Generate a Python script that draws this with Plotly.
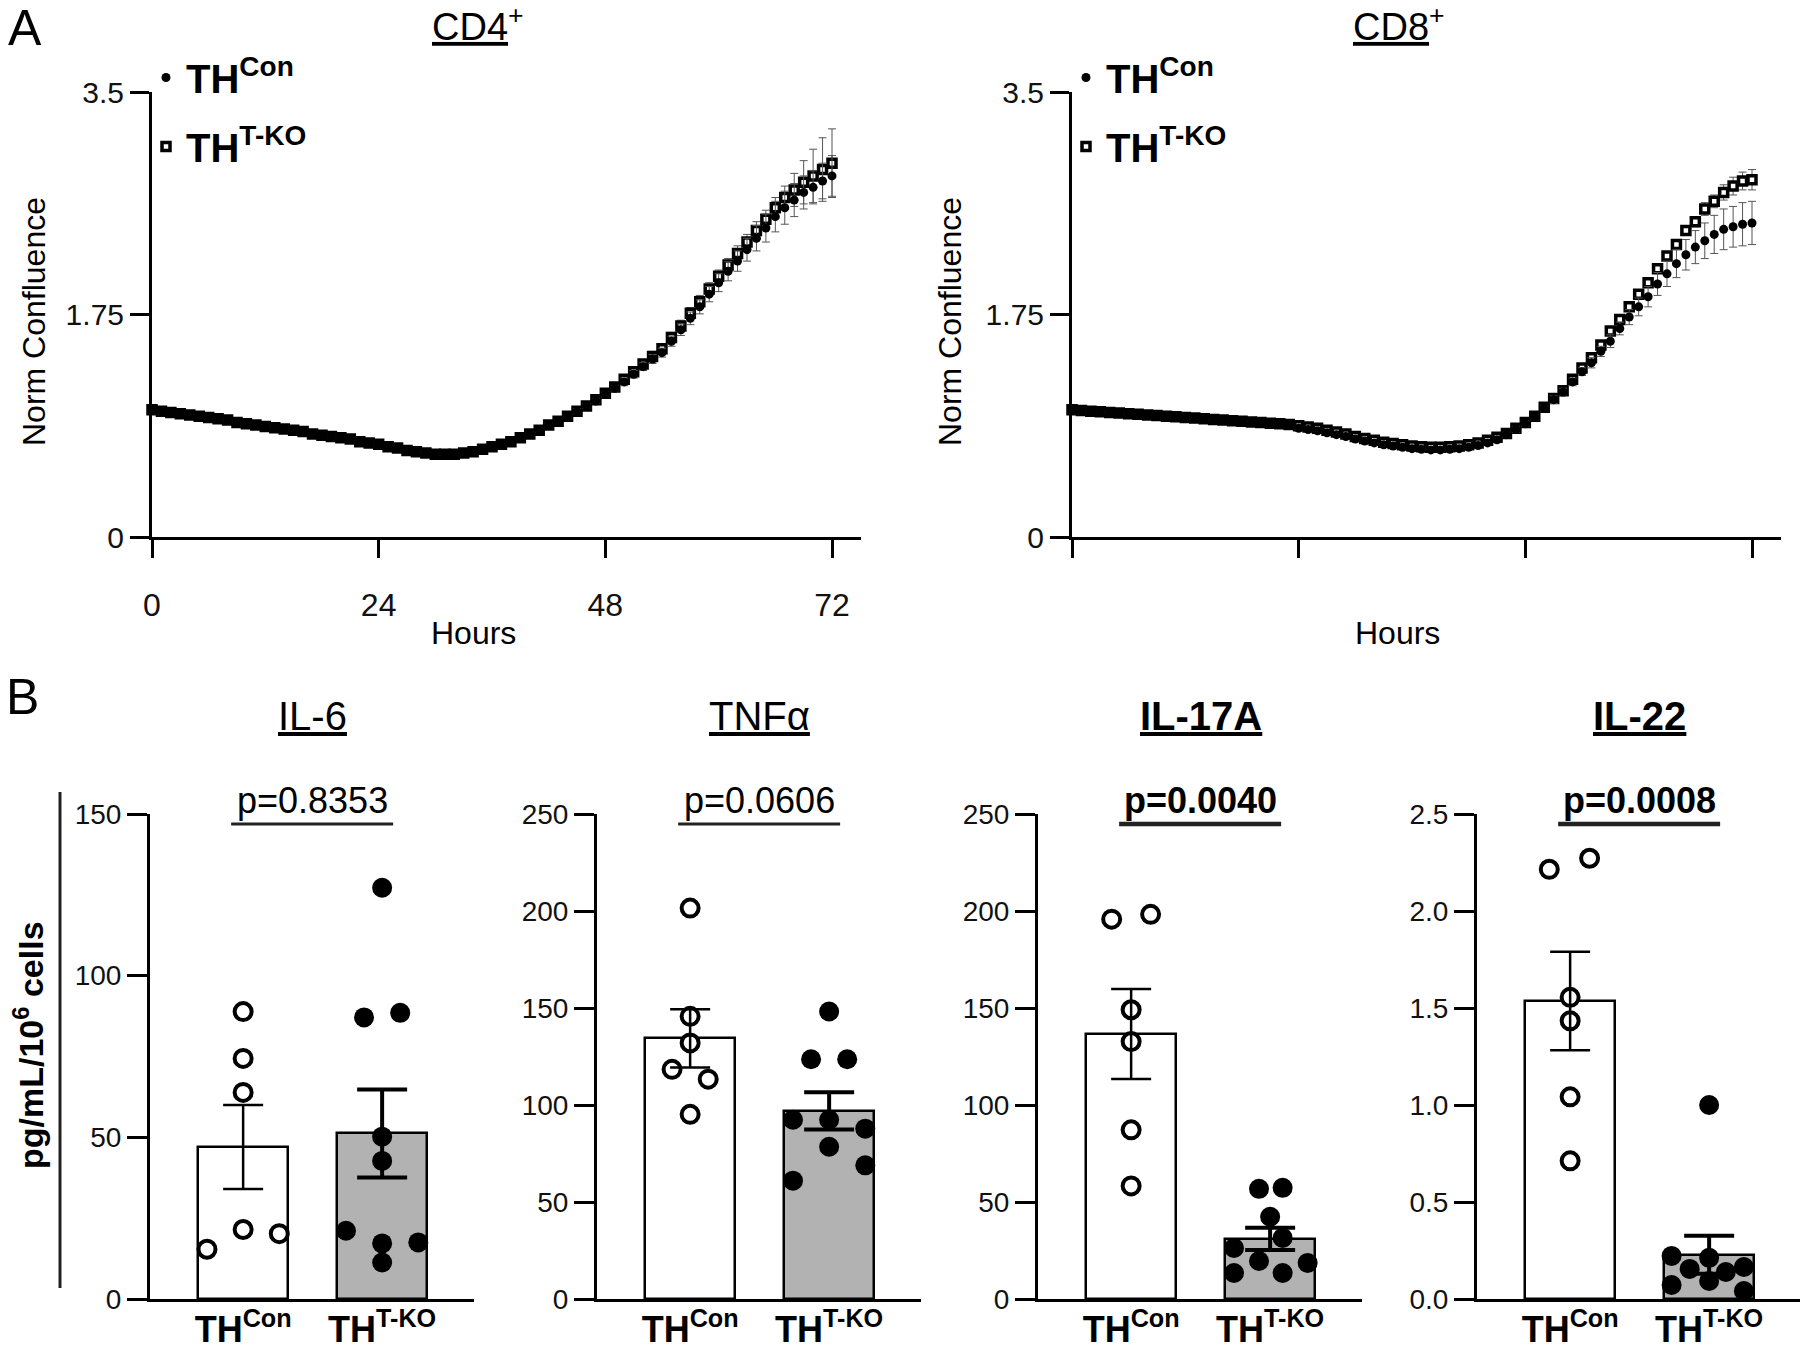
import plotly.graph_objects as go

# ---------------- DATA ----------------
HOURS = list(range(73))

CD4_KO = [1.00, 0.99, 0.98, 0.97, 0.96, 0.95, 0.94, 0.93, 0.92, 0.90,
          0.89, 0.88, 0.87, 0.86, 0.85, 0.84, 0.83, 0.81, 0.80, 0.79,
          0.78, 0.77, 0.75, 0.74, 0.73, 0.71, 0.70, 0.68, 0.67, 0.66,
          0.65, 0.65, 0.65, 0.66, 0.67, 0.69, 0.71, 0.73, 0.75, 0.78,
          0.81, 0.84, 0.88, 0.91, 0.95, 0.99, 1.03, 1.08, 1.13, 1.18,
          1.24, 1.30, 1.36, 1.42, 1.48, 1.57, 1.66, 1.76, 1.85, 1.95,
          2.05, 2.14, 2.23, 2.32, 2.41, 2.50, 2.59, 2.67, 2.73, 2.79,
          2.84, 2.89, 2.94]
CD4_CON = [1.00, 0.99, 0.98, 0.97, 0.96, 0.95, 0.94, 0.93, 0.92, 0.90,
           0.89, 0.88, 0.87, 0.86, 0.85, 0.84, 0.83, 0.81, 0.80, 0.79,
           0.78, 0.77, 0.75, 0.74, 0.73, 0.71, 0.70, 0.68, 0.67, 0.66,
           0.65, 0.65, 0.65, 0.66, 0.67, 0.69, 0.71, 0.73, 0.75, 0.78,
           0.81, 0.84, 0.88, 0.91, 0.95, 0.99, 1.03, 1.07, 1.12, 1.17,
           1.22, 1.28, 1.34, 1.40, 1.45, 1.54, 1.63, 1.72, 1.81, 1.91,
           2.00, 2.09, 2.17, 2.26, 2.35, 2.43, 2.52, 2.59, 2.65, 2.71,
           2.75, 2.80, 2.84]
CD4_KO_ERR = [0.01] * 40 + [0.015] * 5 + [0.02] * 5 + \
             [0.03, 0.03, 0.035, 0.04, 0.04, 0.04, 0.045, 0.045, 0.05, 0.05,
              0.05, 0.05, 0.06, 0.06, 0.07, 0.07, 0.08, 0.09, 0.13, 0.17,
              0.21, 0.25, 0.27]
CD4_CON_ERR = [0.01] * 40 + [0.015] * 5 + [0.02] * 5 + \
              [0.03, 0.03, 0.03, 0.035, 0.035, 0.04, 0.045, 0.05, 0.055, 0.06,
               0.07, 0.075, 0.08, 0.09, 0.10, 0.11, 0.12, 0.13, 0.13, 0.13,
               0.13, 0.14, 0.16]

CD8_KO = [1.00, 0.995, 0.99, 0.985, 0.98, 0.975, 0.97, 0.965, 0.96, 0.955,
          0.95, 0.945, 0.94, 0.935, 0.93, 0.925, 0.92, 0.915, 0.91, 0.905,
          0.90, 0.895, 0.89, 0.885, 0.875, 0.865, 0.855, 0.84, 0.825, 0.81,
          0.79, 0.775, 0.76, 0.745, 0.735, 0.725, 0.715, 0.71, 0.705, 0.705,
          0.71, 0.715, 0.725, 0.74, 0.76, 0.785, 0.815, 0.855, 0.90, 0.95,
          1.02, 1.09, 1.15, 1.24, 1.33, 1.41, 1.51, 1.62, 1.71, 1.81,
          1.91, 2.00, 2.11, 2.21, 2.30, 2.41, 2.48, 2.58, 2.64, 2.71,
          2.76, 2.80, 2.81]
CD8_CON = [1.00, 0.99, 0.985, 0.98, 0.975, 0.97, 0.965, 0.96, 0.955, 0.95,
           0.945, 0.94, 0.935, 0.93, 0.925, 0.92, 0.915, 0.91, 0.905, 0.90,
           0.895, 0.89, 0.885, 0.88, 0.855, 0.845, 0.835, 0.82, 0.805, 0.79,
           0.77, 0.755, 0.74, 0.725, 0.715, 0.705, 0.695, 0.69, 0.685, 0.685,
           0.69, 0.695, 0.705, 0.72, 0.74, 0.765, 0.805, 0.845, 0.89, 0.94,
           1.01, 1.08, 1.14, 1.22, 1.30, 1.37, 1.46, 1.54, 1.64, 1.73,
           1.81, 1.89, 1.99, 2.07, 2.15, 2.22, 2.28, 2.33, 2.38, 2.42,
           2.44, 2.46, 2.47]
CD8_KO_ERR = [0.01] * 51 + [0.02] * 10 + [0.03] * 5 + \
             [0.04, 0.05, 0.05, 0.06, 0.07, 0.07, 0.08]
CD8_CON_ERR = [0.01] * 46 + [0.02] * 5 + [0.03] * 4 + \
              [0.04, 0.04, 0.05, 0.05, 0.06, 0.07, 0.08, 0.09, 0.10, 0.11,
               0.12, 0.13, 0.14, 0.15, 0.16, 0.16, 0.17, 0.17]

GROUPS = ["<b>TH<sup>Con</sup></b>", "<b>TH<sup>T-KO</sup></b>"]
LEGEND_NAMES = ["<b>TH<sup>Con</sup></b>", "<b>TH<sup>T-KO</sup></b>"]

CYTOKINES = ["IL-6", "TNFα", "IL-17A", "IL-22"]
P_VALUES = ["p=0.8353", "p=0.0606", "p=0.0040", "p=0.0008"]
SIGNIFICANT = [False, False, True, True]

IL6_CON = [88.9, 74.4, 63.9, 15.4, 21.5, 20.2]
IL6_KO = [127.2, 87.1, 88.5, 50.2, 42.7, 21.1, 17.2, 17.5, 11.3]
TNF_CON = [201.5, 145.7, 132.0, 118.4, 113.3, 95.2]
TNF_KO = [148.2, 123.6, 123.6, 92.4, 92.4, 87.8, 78.5, 61.0, 68.9]
IL17_CON = [195.8, 198.3, 149.1, 132.7, 87.2, 58.3]
IL17_KO = [56.8, 57.3, 42.4, 31.5, 26.3, 19.6, 18.6, 13.4, 13.4]
IL22_CON = [2.215, 2.272, 1.555, 1.434, 1.042, 0.712]
IL22_KO = [1.0, 0.222, 0.212, 0.155, 0.139, 0.165, 0.072, 0.093, 0.041]

BAR_MEAN_CON = [47.0, 134.3, 136.6, 1.536]
BAR_SEM_CON = [13.0, 15.0, 23.2, 0.254]
BAR_MEAN_KO = [51.2, 97.0, 31.0, 0.228]
BAR_SEM_KO = [13.6, 9.6, 5.7, 0.098]

Y_TOPS = [150, 250, 250, 2.5]
Y_TICKS = [[0, 50, 100, 150], [0, 50, 100, 150, 200, 250],
           [0, 50, 100, 150, 200, 250], [0, 0.5, 1.0, 1.5, 2.0, 2.5]]
Y_TICKTEXT = [["0", "50", "100", "150"], ["0", "50", "100", "150", "200", "250"],
              ["0", "50", "100", "150", "200", "250"],
              ["0.0", "0.5", "1.0", "1.5", "2.0", "2.5"]]

# horizontal scatter offsets of the dots (layout only)
JIT_CON = [[0, 0, 0, -0.26, 0, 0.26], [0, 0, 0, -0.13, 0.13, 0],
           [-0.14, 0.14, 0, 0, 0, 0], [-0.15, 0.14, 0, 0, 0, 0]]
JIT_KO = [[0, -0.13, 0.13, 0, 0, -0.26, 0, 0.26, 0],
          [0, -0.13, 0.13, -0.26, 0, 0.26, 0, -0.26, 0.26],
          [-0.08, 0.09, 0, 0.09, -0.26, -0.08, 0.27, -0.26, 0.09],
          [0, -0.27, 0, -0.14, 0.12, 0.25, -0.27, 0, 0.25]]

CON_POINTS = [IL6_CON, TNF_CON, IL17_CON, IL22_CON]
KO_POINTS = [IL6_KO, TNF_KO, IL17_KO, IL22_KO]

# ---------------- LAYOUT HELPERS ----------------
W, H = 1800, 1351
FONT = "Liberation Sans, Arial, Helvetica, sans-serif"


def px(x):
    return x / W


def py(y):
    return 1 - y / H


PX_PER_HOUR = (832 - 152) / 72
A_LEFT = [152, 1072]
A_W = 709
A_TOP, A_BOT = 92, 537

B_LEFT = [150, 597, 1038, 1477]
B_TOP, B_BOT = 814, 1299
UNIT = 139.0
X0 = -0.67

fig = go.Figure()

axis_common = dict(showline=True, linecolor="black", linewidth=3, ticks="outside",
                   tickwidth=3, tickcolor="black", showgrid=False, zeroline=False,
                   automargin=False, tickfont=dict(family=FONT, color="#111"))

layout = dict(width=W, height=H, margin=dict(l=0, r=0, t=0, b=0, pad=0, autoexpand=False),
              plot_bgcolor="white", paper_bgcolor="white", font=dict(family=FONT, color="black"),
              bargap=0, barmode="overlay")

# Panel A axes
for i in range(2):
    xa = "xaxis" if i == 0 else "xaxis2"
    ya = "yaxis" if i == 0 else "yaxis2"
    left = A_LEFT[i]
    layout[xa] = dict(axis_common, domain=[px(left), px(min(left + A_W, W))],
                      range=[0, A_W / PX_PER_HOUR], tickvals=[0, 24, 48, 72],
                      ticklen=18, showticklabels=(i == 0), ticklabelstandoff=20,
                      anchor="y" if i == 0 else "y2")
    layout[xa]["tickfont"] = dict(family=FONT, color="#111", size=32)
    layout[ya] = dict(axis_common, domain=[py(A_BOT), py(A_TOP)], range=[0, 3.5],
                      tickvals=[0, 1.75, 3.5], ticktext=["0", "1.75", "3.5"], ticklen=19,
                      anchor="x" if i == 0 else "x2")
    layout[ya]["tickfont"] = dict(family=FONT, color="#111", size=30)

# Panel B axes
for k in range(4):
    n = k + 3
    left = B_LEFT[k]
    right = min(left + 324, W)
    x1 = X0 + (right - left) / UNIT
    layout[f"xaxis{n}"] = dict(axis_common, domain=[px(left), px(right)], range=[X0, x1],
                               tickvals=[0, 1], ticktext=GROUPS, ticks="", anchor=f"y{n}",
                               ticklabelstandoff=-3)
    layout[f"xaxis{n}"]["tickfont"] = dict(family=FONT, color="black", size=36)
    layout[f"yaxis{n}"] = dict(axis_common, domain=[py(B_BOT), py(B_TOP)],
                               range=[0, Y_TOPS[k]], tickvals=Y_TICKS[k],
                               ticktext=Y_TICKTEXT[k], ticklen=20, anchor=f"x{n}")
    layout[f"yaxis{n}"]["tickfont"] = dict(family=FONT, color="#111", size=28)

# ---------------- TRACES: Panel A ----------------
series = [(CD4_CON, CD4_CON_ERR, CD4_KO, CD4_KO_ERR, "x", "y", "legend"),
          (CD8_CON, CD8_CON_ERR, CD8_KO, CD8_KO_ERR, "x2", "y2", "legend2")]
for idx, (con, con_e, ko, ko_e, xa, ya, lg) in enumerate(series):
    con_tr = go.Scatter(
        x=HOURS, y=con, mode="markers", name=LEGEND_NAMES[0], xaxis=xa, yaxis=ya,
        legend=lg, legendgroup=f"con{idx}", legendrank=1, cliponaxis=False,
        marker=dict(symbol="circle", size=9, color="black", line=dict(width=0)),
        error_y=dict(type="data", array=con_e, color="#555", thickness=1, width=4))
    ko_tr = go.Scatter(
        x=HOURS, y=ko, mode="markers", name=LEGEND_NAMES[1], xaxis=xa, yaxis=ya,
        legend=lg, legendgroup=f"ko{idx}", legendrank=2, cliponaxis=False,
        marker=dict(symbol="square", size=8, color="white", line=dict(width=3.5, color="black")),
        error_y=dict(type="data", array=ko_e, color="#555", thickness=1, width=4))
    fig.add_trace(ko_tr)
    fig.add_trace(con_tr)

# ---------------- TRACES: Panel B ----------------
for k in range(4):
    n = k + 3
    xa, ya = f"x{n}", f"y{n}"
    fig.add_trace(go.Bar(x=[0], y=[BAR_MEAN_CON[k]], width=0.65, xaxis=xa, yaxis=ya,
                         marker=dict(color="white", line=dict(color="black", width=2.5)),
                         showlegend=False))
    fig.add_trace(go.Bar(x=[1], y=[BAR_MEAN_KO[k]], width=0.65, xaxis=xa, yaxis=ya,
                         marker=dict(color="#b2b2b2", line=dict(color="black", width=2.5)),
                         showlegend=False))
    fig.add_trace(go.Scatter(
        x=[0 + j for j in JIT_CON[k]], y=CON_POINTS[k], mode="markers", xaxis=xa, yaxis=ya,
        showlegend=False, cliponaxis=False,
        marker=dict(symbol="circle", size=17, color="white", line=dict(width=4, color="black"))))
    fig.add_trace(go.Scatter(
        x=[1 + j for j in JIT_KO[k]], y=KO_POINTS[k], mode="markers", xaxis=xa, yaxis=ya,
        showlegend=False, cliponaxis=False,
        marker=dict(symbol="circle", size=20, color="black", line=dict(width=0))))
    fig.add_trace(go.Scatter(
        x=[0], y=[BAR_MEAN_CON[k]], mode="markers", xaxis=xa, yaxis=ya, showlegend=False,
        marker=dict(size=1, color="rgba(0,0,0,0)"),
        error_y=dict(type="data", array=[BAR_SEM_CON[k]], color="black", thickness=2.5, width=20)))
    fig.add_trace(go.Scatter(
        x=[1], y=[BAR_MEAN_KO[k]], mode="markers", xaxis=xa, yaxis=ya, showlegend=False,
        marker=dict(size=1, color="rgba(0,0,0,0)"),
        error_y=dict(type="data", array=[BAR_SEM_KO[k]], color="black", thickness=4, width=25)))

# ---------------- LEGENDS ----------------
leg_common = dict(xanchor="left", yanchor="top", bgcolor="rgba(0,0,0,0)",
                  font=dict(family=FONT, size=40, color="black"), tracegroupgap=14,
                  itemsizing="trace", borderwidth=0, traceorder="grouped")
layout["legend"] = dict(leg_common, x=px(146), y=py(45))
layout["legend2"] = dict(leg_common, x=px(1066), y=py(45))

# ---------------- ANNOTATIONS & SHAPES ----------------
ann = []
shapes = []


def text(t, x, y, size, angle=0, bold=False):
    ann.append(dict(text=(f"<b>{t}</b>" if bold else t), x=px(x), y=py(y), xref="paper",
                    yref="paper", showarrow=False, xanchor="center", yanchor="middle",
                    textangle=angle, font=dict(family=FONT, size=size, color="black")))


text("A", 25, 28, 50)
text("B", 22, 697, 50)
text("<u>CD4</u><sup>+</sup>", 478, 24, 38)
text("<u>CD8</u><sup>+</sup>", 1399, 24, 38)
text("Hours", 474, 633, 32)
text("Hours", 1397, 633, 32)
text("Norm Confluence", 34, 322, 32, angle=-90)
text("Norm Confluence", 950, 322, 32, angle=-90)
text("pg/mL/10<sup>6</sup> cells", 28, 1045, 34, angle=-90, bold=True)

shapes.append(dict(type="line", xref="paper", yref="paper", x0=px(60), x1=px(60),
                   y0=py(792), y1=py(1288), line=dict(color="#222", width=3)))

for k in range(4):
    left = B_LEFT[k]
    c0 = left + (0 - X0) * UNIT
    c1 = left + (1 - X0) * UNIT
    mid = (c0 + c1) / 2
    bold = SIGNIFICANT[k]
    text(f"<u>{CYTOKINES[k]}</u>", mid - 0, 716, 40, bold=bold)
    text(P_VALUES[k], mid, 800, 36, bold=bold)
    shapes.append(dict(type="line", xref="paper", yref="paper", x0=px(c0 - 12), x1=px(c1 + 11),
                       y0=py(824), y1=py(824),
                       line=dict(color="#222", width=4.5 if bold else 3)))

layout["annotations"] = ann
layout["shapes"] = shapes
fig.update_layout(**layout)

fig.write_html("out.html", config={"displayModeBar": False},
               post_script="document.body.style.margin='0px';document.body.style.overflow='hidden';")
